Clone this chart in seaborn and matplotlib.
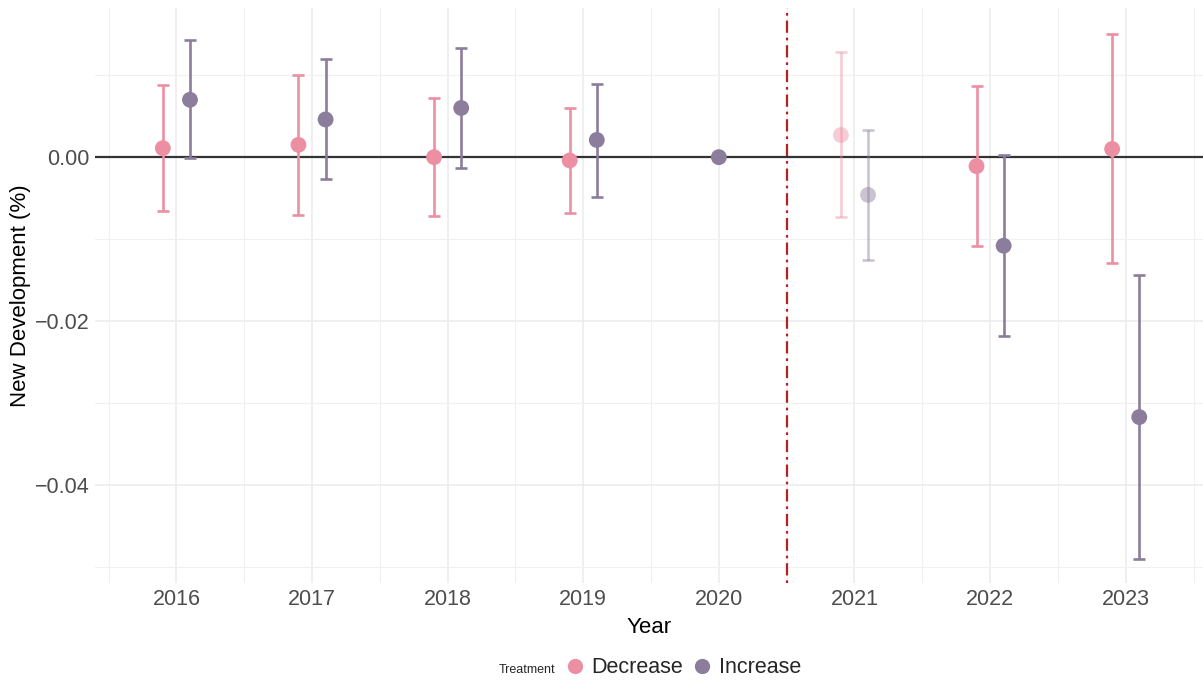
import pandas as pd
import numpy as np
import matplotlib
matplotlib.use("Agg")
import matplotlib.pyplot as plt
import seaborn as sns
from matplotlib.lines import Line2D
from matplotlib.ticker import MultipleLocator

# dados
years_dec = [2016, 2017, 2018, 2019, 2021, 2022, 2023]
est_dec = [0.0011, 0.0015, 0.0000, -0.0004, 0.0027, -0.0011, 0.0010]
low_dec = [-0.0066, -0.0071, -0.0072, -0.0068, -0.0073, -0.0108, -0.0129]
high_dec = [0.0088, 0.0100, 0.0072, 0.0060, 0.0128, 0.0087, 0.0150]

years_inc = [2016, 2017, 2018, 2019, 2020, 2021, 2022, 2023]
est_inc = [0.0070, 0.0046, 0.0060, 0.0021, 0.0000, -0.0046, -0.0108, -0.0317]
low_inc = [-0.0001, -0.0027, -0.0013, -0.0049, 0.0000, -0.0126, -0.0218, -0.0490]
high_inc = [0.0143, 0.0120, 0.0133, 0.0089, 0.0000, 0.0033, 0.0003, -0.0144]

faded_year = 2021
ref_year = 2020
treat_year = 2020.5

cores = {"Decrease": "#EC8FA3", "Increase": "#8B7D9B"}

df = pd.concat([
    pd.DataFrame({"Year": years_dec, "Est": est_dec, "Low": low_dec, "High": high_dec,
                  "Treatment": "Decrease"}),
    pd.DataFrame({"Year": years_inc, "Est": est_inc, "Low": low_inc, "High": high_inc,
                  "Treatment": "Increase"}),
], ignore_index=True)

# deslocamento tipo position_dodge
df["x"] = df["Year"] + np.where(df["Treatment"] == "Decrease", -0.1, 0.1)
df.loc[df["Year"] == ref_year, "x"] = ref_year
df["faded"] = df["Year"] == faded_year

sns.set_theme(style="white")
plt.rcParams["font.family"] = ["Liberation Sans", "DejaVu Sans"]

fig = plt.figure(figsize=(12.03, 6.82), dpi=100)
ax = fig.add_axes([0.079, 0.145, 0.921, 0.843])

# grade estilo theme_minimal
ax.xaxis.set_major_locator(MultipleLocator(1))
ax.xaxis.set_minor_locator(MultipleLocator(0.5))
ax.yaxis.set_major_locator(MultipleLocator(0.02))
ax.yaxis.set_minor_locator(MultipleLocator(0.01))
ax.grid(which="major", color="#EBEBEB", linewidth=1.1)
ax.grid(which="minor", color="#F0F0F0", linewidth=0.8)
ax.set_axisbelow(True)
for s in ax.spines.values():
    s.set_visible(False)

ax.axhline(0, color="#333333", linewidth=1.6, zorder=1)
ax.axvline(treat_year, color="#B22222", linewidth=1.6,
           linestyle=(0, (1.2, 2.2, 5.5, 2.2)), zorder=1)

for _, r in df.iterrows():
    a = 0.45 if r["faded"] else 1.0
    ax.errorbar(r["x"], r["Est"], yerr=[[r["Est"] - r["Low"]], [r["High"] - r["Est"]]],
                fmt="none", ecolor=cores[r["Treatment"]], elinewidth=1.9,
                capsize=4.5, capthick=1.9, alpha=a, zorder=2)

sns.scatterplot(data=df[~df["faded"]], x="x", y="Est", hue="Treatment",
                palette=cores, s=130, linewidth=0, ax=ax, zorder=3, legend=False)
sns.scatterplot(data=df[df["faded"]], x="x", y="Est", hue="Treatment",
                palette=cores, s=130, linewidth=0, alpha=0.45, ax=ax, zorder=3,
                legend=False)

ax.set_xlim(2015.40, 2023.57)
ax.set_ylim(-0.05195, 0.01817)
ax.set_xticks(range(2016, 2024))
ax.set_yticks([-0.04, -0.02, 0.00])
ax.set_yticklabels(["\u22120.04", "\u22120.02", "0.00"])
ax.tick_params(axis="both", which="both", length=0, labelsize=15.5,
               labelcolor="#4D4D4D", pad=4)
ax.set_xlabel("Year", fontsize=16, color="black", labelpad=5)
ax.set_ylabel("New Development (%)", fontsize=16, color="black", labelpad=3)

# legenda horizontal com título à esquerda
handles = [Line2D([], [], linestyle="none", label="Treatment")]
for k, c in cores.items():
    handles.append(Line2D([], [], marker="o", linestyle="none", markersize=11,
                          markerfacecolor=c, markeredgewidth=0, label=k))
leg = fig.legend(handles=handles, loc="center", bbox_to_anchor=(0.53, 0.021),
                 ncol=3, frameon=False, fontsize=15.5, handlelength=0.8,
                 handletextpad=0.35, columnspacing=0.5)
leg.get_texts()[0].set_fontsize(9)

fig.savefig("out.png", dpi=100)
